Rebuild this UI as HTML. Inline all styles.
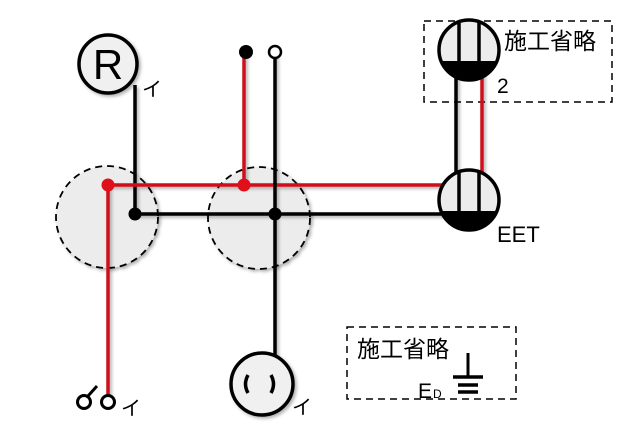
<!DOCTYPE html>
<html><head><meta charset="utf-8"><style>
html,body{margin:0;padding:0;background:#fff}
svg{display:block}
text{font-family:"Liberation Sans","Noto Sans CJK JP",sans-serif;fill:#000}
</style></head><body>
<svg width="640" height="427" viewBox="0 0 640 427" xmlns="http://www.w3.org/2000/svg">
<defs><filter id="sh" x="-20%" y="-20%" width="140%" height="140%"><feDropShadow dx="2" dy="2" stdDeviation="1.5" flood-color="#000" flood-opacity="0.3"/></filter></defs>
<rect x="424" y="21" width="188" height="81" fill="none" stroke="#000" stroke-width="1.5" stroke-dasharray="7,5"/>
<rect x="347" y="327" width="169" height="72" fill="none" stroke="#000" stroke-width="1.5" stroke-dasharray="7,5"/>
<circle cx="107" cy="217" r="51" fill="#ececec" stroke="#000" stroke-width="1.8" stroke-dasharray="7,5" filter="url(#sh)"/>
<circle cx="259" cy="218" r="51" fill="#ececec" stroke="#000" stroke-width="1.8" stroke-dasharray="7,5" filter="url(#sh)"/>
<g filter="url(#sh)" stroke-width="3.5" fill="none">
<line x1="135" y1="85" x2="135" y2="214" stroke="#000"/>
<line x1="135" y1="214" x2="450" y2="214" stroke="#000"/>
<line x1="108" y1="185" x2="450" y2="185" stroke="#d0101a"/>
<line x1="108" y1="185" x2="108" y2="396" stroke="#d0101a"/>
<line x1="244" y1="52" x2="244" y2="185" stroke="#d0101a"/>
<line x1="275" y1="52" x2="275" y2="356" stroke="#000"/>
<line x1="456" y1="70" x2="456" y2="180" stroke="#000"/>
<line x1="482" y1="70" x2="482" y2="180" stroke="#d0101a"/>
</g>
<circle cx="108" cy="185" r="6.5" fill="#e0101a"/>
<circle cx="244" cy="185" r="6.5" fill="#e0101a"/>
<circle cx="135" cy="214" r="6.5" fill="#000"/>
<circle cx="275" cy="214" r="6.5" fill="#000"/>
<circle cx="246" cy="52" r="7" fill="#000"/>
<circle cx="275" cy="52" r="6" fill="#fff" stroke="#000" stroke-width="2.5"/>
<circle cx="108" cy="64" r="29" fill="#f0f0f0" stroke="#000" stroke-width="3.5" filter="url(#sh)"/>
<text x="108" y="79" font-size="42" text-anchor="middle">R</text>
<text x="142" y="96" font-size="20">イ</text>
<circle cx="469" cy="50" r="30" fill="#ececec" stroke="#000" stroke-width="3.5"/>
<path d="M441,61 A30,30 0 0 0 497,61 Z" fill="#000"/>
<line x1="459" y1="21" x2="459" y2="62" stroke="#000" stroke-width="3.5"/>
<line x1="479" y1="21" x2="479" y2="62" stroke="#000" stroke-width="3.5"/>
<circle cx="469" cy="200" r="30" fill="#ececec" stroke="#000" stroke-width="3.5"/>
<path d="M441,211 A30,30 0 0 0 497,211 Z" fill="#000"/>
<line x1="459" y1="171" x2="459" y2="212" stroke="#000" stroke-width="3.5"/>
<line x1="479" y1="171" x2="479" y2="212" stroke="#000" stroke-width="3.5"/>
<text x="504" y="49" font-size="23">施工省略</text>
<text x="497" y="93" font-size="21">2</text>
<text x="497" y="242" font-size="22">EET</text>
<circle cx="262" cy="384" r="31" fill="#f0f0f0" stroke="#000" stroke-width="3.5" filter="url(#sh)"/>
<path d="M248,375 Q243,384 248,393" fill="none" stroke="#000" stroke-width="3.5"/>
<path d="M271,375 Q276,384 271,393" fill="none" stroke="#000" stroke-width="3.5"/>
<text x="292" y="414" font-size="20">イ</text>
<circle cx="84" cy="402" r="6.5" fill="#fff" stroke="#000" stroke-width="3"/>
<circle cx="108" cy="402" r="6.5" fill="#fff" stroke="#000" stroke-width="3"/>
<line x1="88" y1="396" x2="97" y2="386" stroke="#000" stroke-width="3"/>
<text x="121" y="415" font-size="20">イ</text>
<text x="357" y="357" font-size="23">施工省略</text>
<text x="418" y="398" font-size="21">E</text><text x="433" y="398" font-size="12">D</text>
<line x1="468" y1="353" x2="468" y2="377" stroke="#000" stroke-width="3"/>
<line x1="453" y1="377" x2="483" y2="377" stroke="#000" stroke-width="3.5"/>
<line x1="458" y1="385" x2="478" y2="385" stroke="#000" stroke-width="3.5"/>
<line x1="458" y1="392" x2="478" y2="392" stroke="#000" stroke-width="3.5"/>
</svg>
</body></html>
